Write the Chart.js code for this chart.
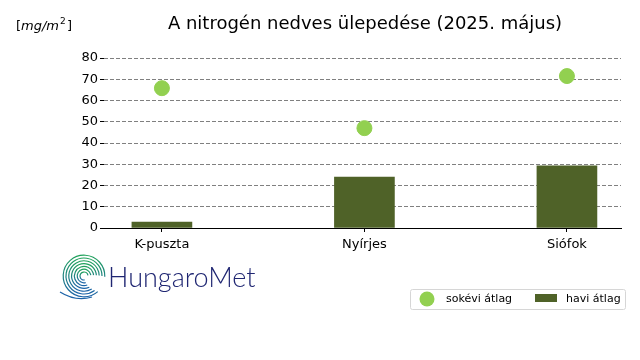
<!DOCTYPE html>
<html lang="hu">
<head>
<meta charset="UTF-8">
<title>A nitrogén nedves ülepedése</title>
<script src="https://cdn.jsdelivr.net/npm/chart.js"></script>
<style>
  body { margin: 0; background: #fff; }
  canvas { display: block; }
</style>
</head>
<body>
<canvas id="chart" width="640" height="360"></canvas>
<script>
const stations = ['K-puszta', 'Nyírjes', 'Siófok'];
const monthlyAvg = [2.8, 24.0, 29.3];     // havi átlag
const longTermAvg = [65.8, 47.0, 71.5];   // sokévi átlag
const yTicks = [0, 10, 20, 30, 40, 50, 60, 70, 80];

const barColor = '#4f6228';
const dotColor = '#92d050';

// title, unit, legend and logo drawn on top
const decorations = {
  id: 'decorations',
  afterDraw(chart) {
    const ctx = chart.ctx;
    ctx.save();
    ctx.fillStyle = '#000';
    ctx.textBaseline = 'alphabetic';

    ctx.font = '18px "DejaVu Sans"';
    ctx.textAlign = 'center';
    ctx.fillText('A nitrogén nedves ülepedése (2025. május)', 365, 29);

    ctx.textAlign = 'left';
    ctx.font = '13px "DejaVu Sans"';
    ctx.fillText('[', 16, 30);
    ctx.font = 'italic 13px "DejaVu Sans"';
    ctx.fillText('mg/m', 21, 30);
    let w = ctx.measureText('mg/m').width;
    ctx.font = '9px "DejaVu Sans"';
    ctx.fillText('2', 21 + w + 1, 24);
    ctx.font = '13px "DejaVu Sans"';
    ctx.fillText(']', 21 + w + 8, 30);

    // legend
    ctx.strokeStyle = '#d6d6d6';
    ctx.lineWidth = 1;
    ctx.beginPath();
    ctx.roundRect(410.5, 289.5, 215, 20, 2);
    ctx.fillStyle = 'rgba(255,255,255,0.8)';
    ctx.fill();
    ctx.stroke();
    ctx.fillStyle = dotColor;
    ctx.beginPath();
    ctx.arc(427, 299, 7.5, 0, Math.PI * 2);
    ctx.fill();
    ctx.fillStyle = barColor;
    ctx.fillRect(535, 294, 22, 8);
    ctx.fillStyle = '#000';
    ctx.font = '11px "DejaVu Sans"';
    ctx.textBaseline = 'middle';
    ctx.fillText('sokévi átlag', 446, 299);
    ctx.fillText('havi átlag', 566, 299);

    // logo
    const cx = 84, cy = 276;
    for (let i = 0; i < 7; i++) {
      const r = 4 + i * 2.8;
      const g = ctx.createLinearGradient(cx, cy - r, cx, cy + r);
      g.addColorStop(0, '#1fa25a');
      g.addColorStop(1, '#1c63a8');
      ctx.strokeStyle = g;
      ctx.lineWidth = 1.2;
      ctx.beginPath();
      ctx.arc(cx, cy, r, Math.PI * (0.45 - i * 0.03), Math.PI * (1.95 + i * 0.01));
      ctx.stroke();
    }
    ctx.strokeStyle = '#1c63a8';
    ctx.beginPath();
    ctx.moveTo(60, 292);
    ctx.quadraticCurveTo(76, 302, 92, 297);
    ctx.stroke();
    ctx.fillStyle = '#1f2672';
    ctx.font = '300 27px Lato';
    ctx.textBaseline = 'alphabetic';
    ctx.textAlign = 'left';
    ctx.fillText('HungaroMet', 108, 287);
    ctx.restore();
  }
};

new Chart(document.getElementById('chart'), {
  type: 'bar',
  data: {
    datasets: [
      {
        type: 'scatter',
        label: 'sokévi átlag',
        data: longTermAvg.map((v, i) => ({ x: i, y: v })),
        backgroundColor: dotColor,
        borderColor: dotColor,
        pointRadius: 7.5,
        pointHoverRadius: 7.5
      },
      {
        label: 'havi átlag',
        data: monthlyAvg.map((v, i) => ({ x: i, y: v })),
        backgroundColor: barColor,
        barThickness: 60
      }
    ]
  },
  options: {
    responsive: false,
    animation: false,
    layout: { padding: { left: 0, right: 19, top: 58, bottom: 0 } },
    plugins: { legend: { display: false }, tooltip: { enabled: false } },
    scales: {
      x: {
        type: 'linear',
        offset: false,
        min: -0.286,
        max: 2.267,
        afterBuildTicks: s => { s.ticks = stations.map((_, i) => ({ value: i })); },
        afterFit: s => { s.height = 132; },
        ticks: {
          callback: v => stations[v],
          color: '#000',
          font: { family: 'DejaVu Sans', size: 13 },
          padding: 5,
          maxRotation: 0
        },
        grid: { offset: false, drawOnChartArea: false, tickLength: 4, tickColor: '#000' },
        border: { display: true, color: '#000', width: 1 }
      },
      y: {
        min: 0,
        max: 80,
        afterBuildTicks: s => { s.ticks = yTicks.map(v => ({ value: v })); },
        afterFit: s => { s.width = 104; },
        ticks: {
          color: '#000',
          font: { family: 'DejaVu Sans', size: 13 },
          padding: 2
        },
        grid: {
          color: '#808080',
          borderDash: [4, 2],
          tickLength: 4,
          tickColor: '#000',
          tickBorderDash: []
        },
        border: { display: false, dash: [4, 2] }
      }
    }
  },
  plugins: [decorations]
});
</script>
</body>
</html>
